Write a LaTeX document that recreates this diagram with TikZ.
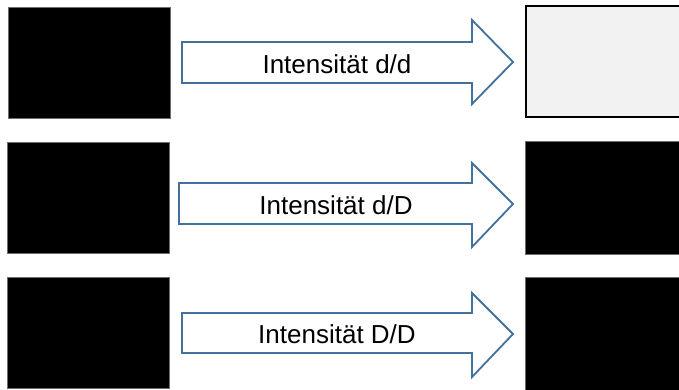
\documentclass[tikz,border=0pt]{standalone}
\usepackage{fontspec}
\setmainfont{Liberation Sans}
\definecolor{arrowblue}{HTML}{41719C}
\definecolor{lightfill}{HTML}{F2F2F2}
\definecolor{edgegray}{HTML}{6E6E6E}
\begin{document}
\begin{tikzpicture}[x=1pt,y=-1pt,
  darkbox/.style={fill=black,draw=edgegray,line width=0.8pt},
  lightbox/.style={fill=lightfill,draw=black,line width=1.8pt},
  blockarrow/.style={fill=white,draw=arrowblue,line width=1.8pt,line join=miter},
  label/.style={font=\fontsize{26}{28}\selectfont,inner sep=0pt}]
\useasboundingbox (0,0) rectangle (679,389);
\clip (0,0) rectangle (679,389);

% left column: source images
\draw[darkbox] (8,7) rectangle (170,118);
\draw[darkbox] (7,142) rectangle (169,253);
\draw[darkbox] (7,277) rectangle (169,388);

% right column: results
\draw[lightbox] (526,6) rectangle (690,117);
\draw[darkbox] (525,141) rectangle (690,254);
\draw[darkbox] (525,277) rectangle (690,395);

% block arrows with their labels
\draw[blockarrow] (182,42) -- (472,42) -- (472,20) -- (513,62) -- (472,104) -- (472,83) -- (182,83) -- cycle;
\node[label] (a1) at (337,64) {Intensität d/d};

\draw[blockarrow] (179,183) -- (472,183) -- (472,163) -- (513,204) -- (472,247) -- (472,224) -- (179,224) -- cycle;
\node[label] (a2) at (336,205) {Intensität d/D};

\draw[blockarrow] (182,313) -- (472,313) -- (472,293) -- (513,334) -- (472,377) -- (472,353) -- (182,353) -- cycle;
\node[label] (a3) at (337,334) {Intensität D/D};
\end{tikzpicture}
\end{document}
